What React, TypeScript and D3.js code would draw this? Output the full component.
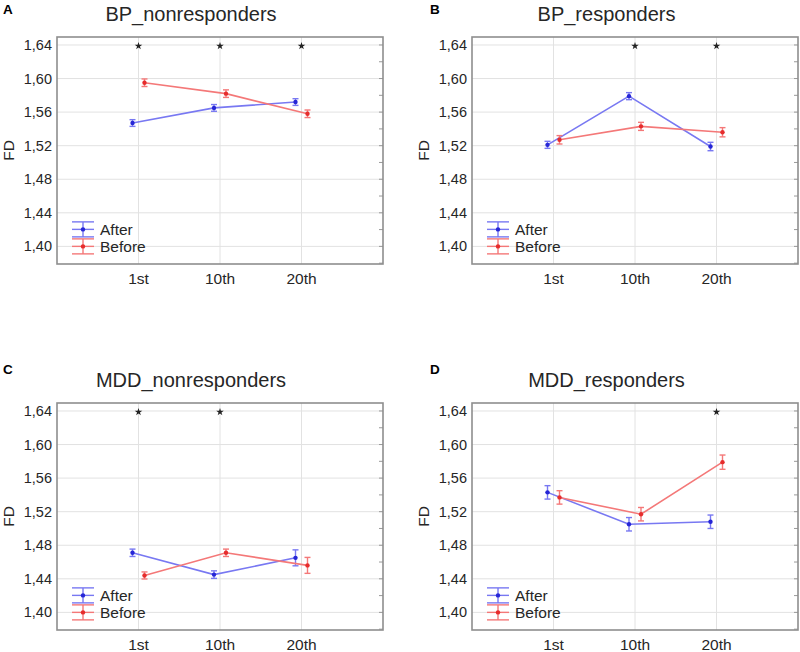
import React from "react";
import * as d3 from "d3";

const sessions = ["1st", "10th", "20th"];
const yTicks = [1.4, 1.44, 1.48, 1.52, 1.56, 1.6, 1.64];
const minorTicks = [1.38, 1.42, 1.46, 1.5, 1.54, 1.58, 1.62];
const seriesNames = ["After", "Before"];

// BP_nonresponders
const bpNonAfter = [1.547, 1.565, 1.572];
const bpNonAfterErr = [0.004, 0.004, 0.004];
const bpNonBefore = [1.595, 1.582, 1.558];
const bpNonBeforeErr = [0.0045, 0.0045, 0.0045];
const bpNonStars = ["1st", "10th", "20th"];

// BP_responders
const bpResAfter = [1.521, 1.579, 1.519];
const bpResAfterErr = [0.0042, 0.0042, 0.005];
const bpResBefore = [1.527, 1.543, 1.536];
const bpResBeforeErr = [0.005, 0.0048, 0.0055];
const bpResStars = ["10th", "20th"];

// MDD_nonresponders
const mddNonAfter = [1.471, 1.445, 1.465];
const mddNonAfterErr = [0.0044, 0.0045, 0.0095];
const mddNonBefore = [1.444, 1.471, 1.456];
const mddNonBeforeErr = [0.0042, 0.0044, 0.0095];
const mddNonStars = ["1st", "10th"];

// MDD_responders
const mddResAfter = [1.543, 1.505, 1.508];
const mddResAfterErr = [0.008, 0.008, 0.008];
const mddResBefore = [1.537, 1.517, 1.579];
const mddResBeforeErr = [0.008, 0.008, 0.0085];
const mddResStars = ["20th"];

const panels = [
  { letter: "A", title: "BP_nonresponders", after: bpNonAfter, afterErr: bpNonAfterErr, before: bpNonBefore, beforeErr: bpNonBeforeErr, stars: bpNonStars, col: 0, row: 0 },
  { letter: "B", title: "BP_responders", after: bpResAfter, afterErr: bpResAfterErr, before: bpResBefore, beforeErr: bpResBeforeErr, stars: bpResStars, col: 1, row: 0 },
  { letter: "C", title: "MDD_nonresponders", after: mddNonAfter, afterErr: mddNonAfterErr, before: mddNonBefore, beforeErr: mddNonBeforeErr, stars: mddNonStars, col: 0, row: 1 },
  { letter: "D", title: "MDD_responders", after: mddResAfter, afterErr: mddResAfterErr, before: mddResBefore, beforeErr: mddResBeforeErr, stars: mddResStars, col: 1, row: 1 },
];

const FONT = "'Liberation Sans', Arial, sans-serif";
const BLUE_LINE = "#7878f2";
const BLUE_PT = "#2626d6";
const RED_LINE = "#f47878";
const RED_PT = "#e62c2c";
const TEXT = "#262626";

const PW = 326; // plot width
const PH = 227; // plot height
const OFFX = 415;
const OFFY = 366;
const LEFT0 = 57;
const TOP0 = 37;

function Panel({ p }: { p: typeof panels[number] }) {
  const left = LEFT0 + p.col * OFFX;
  const top = TOP0 + p.row * OFFY;
  const x = d3.scaleLinear().domain([0, 4]).range([left, left + PW]);
  const y = d3.scaleLinear().domain([1.379, 1.6495]).range([top + PH, top]);
  const catX = (i: number) => x(i + 1);
  const off = 6;
  const line = d3.line<[number, number]>().x((d) => d[0]).y((d) => d[1]);
  const series = [
    { vals: p.after, errs: p.afterErr, dx: -off, lc: BLUE_LINE, pc: BLUE_PT },
    { vals: p.before, errs: p.beforeErr, dx: off, lc: RED_LINE, pc: RED_PT },
  ];
  const star = d3.symbol().type(d3.symbolStar).size(18)()!;
  const legX = left + 15;
  const legY = [y(1.4) - 17, y(1.4)];
  const cap = 3;
  return (
    <g>
      {/* panel letter */}
      <text x={3 + p.col * OFFX + (p.col ? 12 : 0)} y={14 + p.row * 360} fontFamily={FONT} fontWeight="bold" fontSize={13.5} fill="#000">
        {p.letter}
      </text>
      {/* title */}
      <text x={191 + p.col * 415.5} y={20.5 + p.row * OFFY} textAnchor="middle" fontFamily={FONT} fontSize={20} fill={TEXT}>
        {p.title}
      </text>
      {/* grid */}
      {yTicks.map((t) => (
        <line key={"gy" + t} x1={left} x2={left + PW} y1={y(t)} y2={y(t)} stroke="#e2e2e2" strokeWidth={1} />
      ))}
      {sessions.map((s, i) => (
        <line key={"gx" + s} x1={catX(i)} x2={catX(i)} y1={top} y2={top + PH} stroke="#e2e2e2" strokeWidth={1} />
      ))}
      {/* right side small ticks */}
      {minorTicks.concat(yTicks).map((t) => (
        <line key={"mt" + t} x1={left + PW - 4} x2={left + PW} y1={y(t)} y2={y(t)} stroke="#999" strokeWidth={1} />
      ))}
      {/* frame */}
      <rect x={left} y={top} width={PW} height={PH} fill="none" stroke="#8e8e8e" strokeWidth={1.6} />
      {/* y tick labels */}
      {yTicks.map((t) => (
        <text key={"yl" + t} x={left - 5} y={y(t) + 5} textAnchor="end" fontFamily={FONT} fontSize={14.5} fill={TEXT}>
          {t.toFixed(2).replace(".", ",")}
        </text>
      ))}
      {/* x tick labels */}
      {sessions.map((s, i) => (
        <text key={"xl" + s} x={catX(i)} y={top + PH + 19.5} textAnchor="middle" fontFamily={FONT} fontSize={15.5} fill={TEXT}>
          {s}
        </text>
      ))}
      {/* y axis title */}
      <text
        transform={`translate(${left - 43},${top + PH / 2}) rotate(-90)`}
        textAnchor="middle"
        fontFamily={FONT}
        fontSize={15.5}
        fill={TEXT}
      >
        FD
      </text>
      {/* stars */}
      {p.stars.map((s) => (
        <path key={"st" + s} d={star} transform={`translate(${catX(sessions.indexOf(s))},${y(1.64) + 1})`} fill="#222" />
      ))}
      {/* series */}
      {series.map((se, k) => {
        const pts: [number, number][] = se.vals.map((v, i) => [catX(i) + se.dx, y(v)]);
        return (
          <g key={"s" + k}>
            <path d={line(pts)!} fill="none" stroke={se.lc} strokeWidth={1.6} />
            {se.vals.map((v, i) => {
              const cx = catX(i) + se.dx;
              const y1 = y(v + se.errs[i]);
              const y2 = y(v - se.errs[i]);
              return (
                <g key={"e" + i}>
                  <line x1={cx} x2={cx} y1={y1} y2={y2} stroke={se.lc} strokeWidth={1.4} />
                  <line x1={cx - cap} x2={cx + cap} y1={y1} y2={y1} stroke={se.lc} strokeWidth={1.4} />
                  <line x1={cx - cap} x2={cx + cap} y1={y2} y2={y2} stroke={se.lc} strokeWidth={1.4} />
                  <circle cx={cx} cy={y(v)} r={2.2} fill={se.pc} />
                </g>
              );
            })}
          </g>
        );
      })}
      {/* legend */}
      {seriesNames.map((n, k) => {
        const cy = legY[k];
        const lc = k === 0 ? BLUE_LINE : RED_LINE;
        const pc = k === 0 ? BLUE_PT : RED_PT;
        return (
          <g key={"lg" + n}>
            {[-7.5, 0, 7.5].map((dy) => (
              <line key={dy} x1={legX} x2={legX + 22} y1={cy + dy} y2={cy + dy} stroke={lc} strokeWidth={1.4} />
            ))}
            <line x1={legX + 11} x2={legX + 11} y1={cy - 7.5} y2={cy + 7.5} stroke={lc} strokeWidth={1.4} />
            <circle cx={legX + 11} cy={cy} r={2.2} fill={pc} />
            <text x={legX + 28} y={cy + 5.5} fontFamily={FONT} fontSize={15.5} fill={TEXT}>
              {n}
            </text>
          </g>
        );
      })}
    </g>
  );
}

export default function App() {
  return (
    <div style={{ position: "absolute", left: 0, top: 0 }}>
      <svg width={800} height={652} style={{ display: "block", background: "#fff" }}>
        <rect x={0} y={0} width={800} height={652} fill="#fff" />
        {panels.map((p) => (
          <Panel key={p.letter} p={p} />
        ))}
      </svg>
    </div>
  );
}
